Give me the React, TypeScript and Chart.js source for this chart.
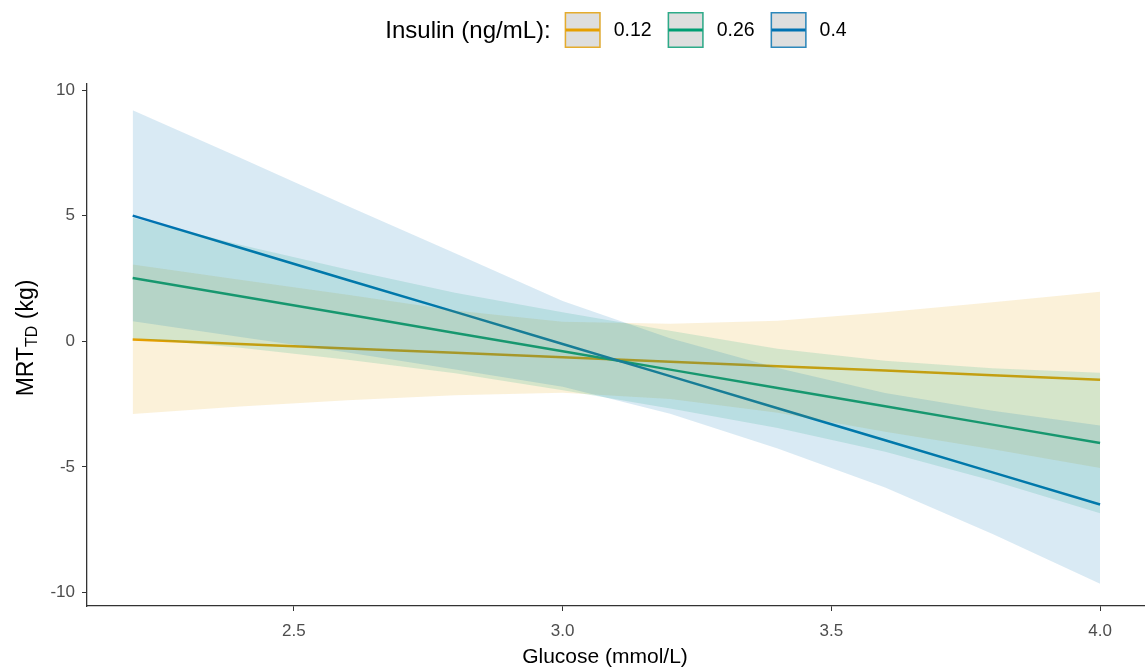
import React, { useEffect, useRef } from 'react';
import { Chart, registerables } from 'chart.js';

Chart.register(...registerables);

// ---------- data ----------
const glucose = [2.2, 2.4, 2.6, 2.8, 3.0, 3.2, 3.4, 3.6, 3.8, 4.0];
const insulinLevels = ['0.12', '0.26', '0.4'];

const fit012 = [0.07, -0.11, -0.29, -0.46, -0.64, -0.82, -1.0, -1.17, -1.35, -1.53];
const upper012 = [3.05, 2.45, 1.85, 1.22, 0.78, 0.7, 0.82, 1.15, 1.55, 1.97];
const lower012 = [-2.9, -2.6, -2.35, -2.15, -2.05, -2.3, -2.85, -3.6, -4.3, -5.05];

const fit026 = [2.52, 1.79, 1.06, 0.33, -0.4, -1.13, -1.86, -2.59, -3.32, -4.05];
const upper026 = [4.92, 3.84, 2.86, 1.93, 1.15, 0.42, -0.3, -0.78, -1.08, -1.25];
const lower026 = [0.12, -0.26, -0.74, -1.27, -1.95, -2.68, -3.45, -4.4, -5.55, -6.85];

const fit040 = [5.0, 3.72, 2.44, 1.17, -0.11, -1.39, -2.67, -3.94, -5.22, -6.5];
const upper040 = [9.2, 7.3, 5.38, 3.5, 1.6, 0.12, -1.07, -2.06, -2.77, -3.35];
const lower040 = [0.8, 0.17, -0.45, -1.13, -1.81, -2.89, -4.27, -5.82, -7.67, -9.65];

const xTicks = [2.5, 3.0, 3.5, 4.0];
const yTicks = [-10, -5, 0, 5, 10];

const legendTitle = 'Insulin (ng/mL):';
const xTitle = 'Glucose (mmol/L)';
const yTitleMain = 'MRT';
const yTitleSub = 'TD';
const yTitleRest = ' (kg)';

const seriesColors = ['#E69F00', '#009E73', '#0072B2'];
const FONT = '"Liberation Sans", Arial, sans-serif';

function rgba(hex: string, a: number) {
  const n = parseInt(hex.slice(1), 16);
  return `rgba(${(n >> 16) & 255},${(n >> 8) & 255},${n & 255},${a})`;
}

const pts = (ys: number[]) => glucose.map((x, i) => ({ x, y: ys[i] }));

const groups = [
  { fit: fit012, upper: upper012, lower: lower012 },
  { fit: fit026, upper: upper026, lower: lower026 },
  { fit: fit040, upper: upper040, lower: lower040 },
];

const decorPlugin = {
  id: 'decor',
  afterDraw(chart: any) {
    const ctx = chart.ctx as CanvasRenderingContext2D;
    const area = chart.chartArea;
    ctx.save();

    // x title
    ctx.fillStyle = '#000000';
    ctx.font = `21px ${FONT}`;
    ctx.textAlign = 'center';
    ctx.textBaseline = 'middle';
    ctx.fillText(xTitle, 605, 657);

    // y title with subscript
    ctx.save();
    ctx.translate(26, 338);
    ctx.rotate(-Math.PI / 2);
    const mainFont = `23px ${FONT}`;
    const subFont = `16px ${FONT}`;
    ctx.font = mainFont;
    const w1 = ctx.measureText(yTitleMain).width;
    const w3 = ctx.measureText(yTitleRest).width;
    ctx.font = subFont;
    const w2 = ctx.measureText(yTitleSub).width;
    let x0 = -(w1 + w2 + w3) / 2;
    ctx.textAlign = 'left';
    ctx.textBaseline = 'alphabetic';
    ctx.font = mainFont;
    ctx.fillText(yTitleMain, x0, 7);
    x0 += w1;
    ctx.font = subFont;
    ctx.fillText(yTitleSub, x0, 11);
    x0 += w2;
    ctx.font = mainFont;
    ctx.fillText(yTitleRest, x0, 7);
    ctx.restore();

    // legend
    const titleFont = `24px ${FONT}`;
    const labelFont = `19.5px ${FONT}`;
    const box = 36;
    const gapTitle = 14;
    const gapBoxLabel = 13;
    const gapItem = 16;
    ctx.font = titleFont;
    const tw = ctx.measureText(legendTitle).width;
    ctx.font = labelFont;
    const lws = insulinLevels.map((l) => ctx.measureText(l).width);
    let total = tw + gapTitle;
    lws.forEach((w, i) => {
      total += box + gapBoxLabel + w + (i < lws.length - 1 ? gapItem : 0);
    });
    const cx = (area.left + area.right) / 2;
    let x = cx - total / 2;
    const cy = 30;
    ctx.textAlign = 'left';
    ctx.textBaseline = 'middle';
    ctx.fillStyle = '#000000';
    ctx.font = titleFont;
    ctx.fillText(legendTitle, x, cy + 1);
    x += tw + gapTitle;
    insulinLevels.forEach((lab, i) => {
      const c = seriesColors[i];
      ctx.fillStyle = '#DEDEDE';
      ctx.fillRect(x, cy - box / 2, box, box);
      ctx.strokeStyle = rgba(c, 0.8);
      ctx.lineWidth = 1.5;
      ctx.strokeRect(x + 0.75, cy - box / 2 + 0.75, box - 1.5, box - 1.5);
      ctx.strokeStyle = c;
      ctx.lineWidth = 3;
      ctx.beginPath();
      ctx.moveTo(x + 1, cy);
      ctx.lineTo(x + box - 1, cy);
      ctx.stroke();
      x += box + gapBoxLabel;
      ctx.fillStyle = '#000000';
      ctx.font = labelFont;
      ctx.fillText(lab, x, cy + 1);
      x += lws[i] + gapItem;
    });
    ctx.restore();
  },
};

export default function App() {
  const ref = useRef<HTMLCanvasElement | null>(null);

  useEffect(() => {
    if (!ref.current) return;
    const datasets: any[] = [];
    // ribbons: upper fills to its lower dataset
    groups.forEach((g, k) => {
      const upperIdx = datasets.length;
      datasets.push({
        type: 'line',
        label: `upper ${insulinLevels[k]}`,
        data: pts(g.upper),
        borderWidth: 0,
        borderColor: 'rgba(0,0,0,0)',
        backgroundColor: rgba(seriesColors[k], 0.15),
        pointRadius: 0,
        fill: upperIdx + 1,
        order: 5 - k,
      });
      datasets.push({
        type: 'line',
        label: `lower ${insulinLevels[k]}`,
        data: pts(g.lower),
        borderWidth: 0,
        borderColor: 'rgba(0,0,0,0)',
        pointRadius: 0,
        fill: false,
        order: 5 - k,
      });
    });
    groups.forEach((g, k) => {
      datasets.push({
        type: 'line',
        label: insulinLevels[k],
        data: pts(g.fit),
        borderColor: seriesColors[k],
        borderWidth: 2.5,
        pointRadius: 0,
        fill: false,
        order: 20 - k,
      });
    });

    const chart = new Chart(ref.current, {
      type: 'line',
      data: { datasets },
      options: {
        animation: false,
        responsive: false,
        maintainAspectRatio: false,
        layout: { padding: { top: 84, left: 0, right: 0, bottom: 0 } },
        plugins: {
          legend: { display: false },
          tooltip: { enabled: false },
          title: { display: false },
        },
        scales: {
          x: {
            type: 'linear',
            min: 2.115,
            max: 4.0836,
            afterBuildTicks: (s: any) => {
              s.ticks = xTicks.map((v) => ({ value: v }));
            },
            afterFit: (s: any) => {
              s.height = 65;
            },
            ticks: {
              callback: (v: any) => Number(v).toFixed(1),
              font: { family: FONT, size: 17 },
              color: '#4D4D4D',
              padding: 10,
              maxRotation: 0,
              autoSkip: false,
            },
            grid: {
              drawOnChartArea: false,
              drawTicks: true,
              tickLength: 5,
              color: '#333333',
              lineWidth: 1,
            },
            border: { display: true, color: '#333333', width: 1.3 },
          },
          y: {
            type: 'linear',
            min: -10.54,
            max: 10.24,
            afterBuildTicks: (s: any) => {
              s.ticks = yTicks.map((v) => ({ value: v }));
            },
            afterFit: (s: any) => {
              s.width = 87;
            },
            ticks: {
              callback: (v: any) => String(v),
              font: { family: FONT, size: 17 },
              color: '#4D4D4D',
              padding: 7,
              autoSkip: false,
            },
            grid: {
              drawOnChartArea: false,
              drawTicks: true,
              tickLength: 5,
              color: '#333333',
              lineWidth: 1,
            },
            border: { display: true, color: '#333333', width: 1.3 },
          },
        },
      },
      plugins: [decorPlugin],
    });
    return () => chart.destroy();
  }, []);

  return (
    <div style={{ position: 'fixed', left: 0, top: 0, width: 1145, height: 671, background: '#ffffff' }}>
      <canvas ref={ref} width={1145} height={671} style={{ width: 1145, height: 671, display: 'block' }} />
    </div>
  );
}
